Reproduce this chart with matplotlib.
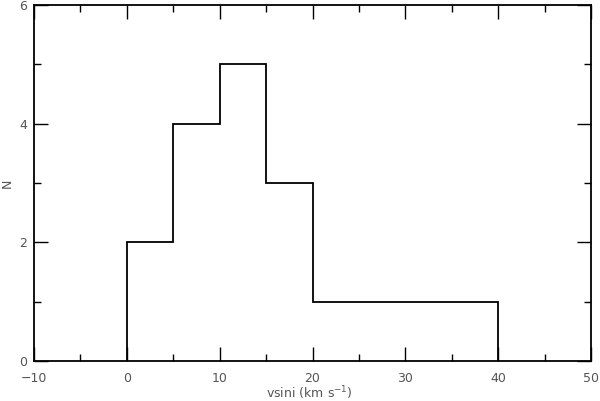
import numpy as np
import matplotlib
matplotlib.use('Agg')
import matplotlib.pyplot as plt
from matplotlib.ticker import MultipleLocator

# Histogram of vsini values
bin_edges = [0, 5, 10, 15, 20, 25, 30, 35, 40]
counts = [2, 4, 5, 3, 1, 1, 1, 1]

fig = plt.figure(figsize=(6.0, 4.01), dpi=100)
ax = fig.add_axes([34 / 600, 1 - 361 / 401, 557 / 600, 356 / 401])

ax.stairs(counts, bin_edges, color='black', linewidth=1.3)

ax.set_xlim(-10, 50)
ax.set_ylim(0, 6)
ax.xaxis.set_major_locator(MultipleLocator(10))
ax.xaxis.set_minor_locator(MultipleLocator(5))
ax.yaxis.set_major_locator(MultipleLocator(2))
ax.yaxis.set_minor_locator(MultipleLocator(1))
ax.tick_params(which='both', direction='in', top=True, right=True,
               labelsize=9, labelcolor='#555555')
ax.tick_params(axis='x', pad=8)
ax.tick_params(axis='y', pad=5)
ax.tick_params(which='major', length=10, width=1)
ax.tick_params(which='minor', length=5, width=1)
for s in ax.spines.values():
    s.set_linewidth(1.3)

ax.set_xlabel('vsini (km s$^{-1}$)', fontsize=9, color='#555555')
ax.xaxis.set_label_coords(0.495, -0.09, transform=ax.transAxes)
ax.xaxis.label.set_va('center')
ax.set_ylabel('N', fontsize=9, color='#555555', labelpad=4)

fig.savefig('out.png', dpi=100)
